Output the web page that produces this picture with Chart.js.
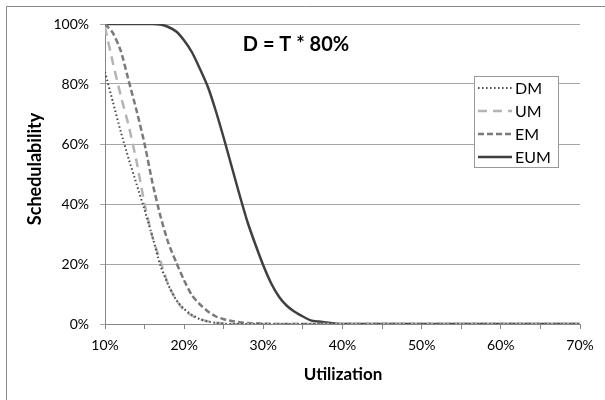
<!DOCTYPE html>
<html>
<head>
<meta charset="utf-8">
<script src="https://cdn.jsdelivr.net/npm/chart.js@4.4.0/dist/chart.umd.min.js"></script>
<style>
  html, body { margin: 0; padding: 0; background: #fff; }
  canvas { display: block; }
</style>
</head>
<body>
<canvas id="chart" width="605" height="400"></canvas>
<script>
// utilization in %, schedulability in %
const utilization = [10, 11, 12, 13, 14, 15, 16, 17, 18, 19, 20, 21, 22, 23, 24, 25, 26, 27, 28, 29, 30,
  31, 32, 33, 34, 35, 36, 37, 38, 39, 40, 41, 42, 43, 44, 45, 46, 47, 48, 49, 50,
  51, 52, 53, 54, 55, 56, 57, 58, 59, 60, 61, 62, 63, 64, 65, 66, 67, 68, 69, 70];

const dmValues = [84, 74, 64, 55, 46.5, 38, 29, 19.5, 13, 8, 5, 3, 1.6, 0.8, 0.4, 0.1, 0, 0, 0, 0, 0,
  0, 0, 0, 0, 0, 0, 0, 0, 0, 0, 0, 0, 0, 0, 0, 0, 0, 0, 0, 0,
  0, 0, 0, 0, 0, 0, 0, 0, 0, 0, 0, 0, 0, 0, 0, 0, 0, 0, 0, 0];

const umValues = [99, 87, 76, 66, 54, 40, 29, 21, 13, 8, 4.5, 2.8, 1.6, 0.9, 0.4, 0.15, 0, 0, 0, 0, 0,
  0, 0, 0, 0, 0, 0, 0, 0, 0, 0, 0, 0, 0, 0, 0, 0, 0, 0, 0, 0,
  0, 0, 0, 0, 0, 0, 0, 0, 0, 0, 0, 0, 0, 0, 0, 0, 0, 0, 0, 0];

const emValues = [100, 97, 91, 81, 71, 60, 47, 36, 27, 20.5, 14.5, 9.5, 6.5, 4.2, 2.5, 1.6, 1.0, 0.6, 0.3, 0.2, 0.1,
  0, 0, 0, 0, 0, 0, 0, 0, 0, 0, 0, 0, 0, 0, 0, 0, 0, 0, 0, 0,
  0, 0, 0, 0, 0, 0, 0, 0, 0, 0, 0, 0, 0, 0, 0, 0, 0, 0, 0, 0];

const eumValues = [100, 100, 100, 100, 100, 100, 100, 99.8, 99, 97.5, 94.5, 90.5, 85, 79, 71, 62, 52.5, 43, 34, 26.5, 19.5,
  13.5, 9, 6, 4, 2.5, 1.2, 0.8, 0.5, 0.2, 0, 0, 0, 0, 0, 0, 0, 0, 0, 0, 0,
  0, 0, 0, 0, 0, 0, 0, 0, 0, 0, 0, 0, 0, 0, 0, 0, 0, 0, 0, 0];

const seriesNames = ['DM', 'UM', 'EM', 'EUM'];
const chartTitle = 'D = T * 80%';
const xTitle = 'Utilization';
const yTitle = 'Schedulability';

const FONT = 'Lato, "Open Sans", sans-serif';

function points(values) {
  return utilization.map((u, i) => ({ x: u, y: values[i] }));
}

// frame, title, axis titles and the boxed legend
const decorations = {
  id: 'decorations',
  beforeDraw(chart) {
    const ctx = chart.ctx;
    ctx.save();
    ctx.fillStyle = '#fff';
    ctx.fillRect(0, 0, chart.width, chart.height);
    ctx.strokeStyle = '#888';
    ctx.lineWidth = 1;
    ctx.beginPath();
    ctx.moveTo(6.5, chart.height);
    ctx.lineTo(6.5, 6.5);
    ctx.lineTo(chart.width, 6.5);
    ctx.stroke();
    ctx.restore();
  },
  afterDraw(chart) {
    const ctx = chart.ctx;
    const area = chart.chartArea;
    ctx.save();
    ctx.fillStyle = '#000';
    ctx.textBaseline = 'middle';

    ctx.font = 'bold 20px ' + FONT;
    ctx.textAlign = 'center';
    ctx.fillText(chartTitle, 296, 45);

    ctx.font = 'bold 17px ' + FONT;
    ctx.fillText(xTitle, 343, 375);

    ctx.save();
    ctx.font = 'bold 18px ' + FONT;
    ctx.translate(35, 169);
    ctx.rotate(-Math.PI / 2);
    ctx.fillText(yTitle, 0, 0);
    ctx.restore();

    // legend
    const lx = 474, ly = 76, lw = 84, lh = 91;
    ctx.fillStyle = '#fff';
    ctx.fillRect(lx, ly, lw, lh);
    ctx.strokeStyle = '#999';
    ctx.lineWidth = 1;
    ctx.strokeRect(lx + 0.5, ly + 0.5, lw, lh);

    ctx.font = '16px ' + FONT;
    ctx.textAlign = 'left';
    chart.data.datasets.forEach((ds, i) => {
      const y = 88 + i * 23;
      ctx.save();
      ctx.strokeStyle = ds.borderColor;
      ctx.lineWidth = ds.borderWidth;
      ctx.setLineDash(ds.borderDash || []);
      ctx.beginPath();
      ctx.moveTo(478, y);
      ctx.lineTo(512, y);
      ctx.stroke();
      ctx.restore();
      ctx.fillStyle = '#000';
      ctx.fillText(ds.label, 515, y + 1);
    });
    ctx.restore();
  }
};

new Chart(document.getElementById('chart'), {
  type: 'line',
  data: {
    datasets: [
      { label: seriesNames[0], data: points(dmValues), borderColor: '#4a4a4a', borderWidth: 2, borderDash: [1.5, 2.5] },
      { label: seriesNames[1], data: points(umValues), borderColor: '#b4b4b4', borderWidth: 2.5, borderDash: [9, 6] },
      { label: seriesNames[2], data: points(emValues), borderColor: '#7a7a7a', borderWidth: 2.5, borderDash: [6, 3] },
      { label: seriesNames[3], data: points(eumValues), borderColor: '#404040', borderWidth: 2.5 }
    ]
  },
  options: {
    responsive: false,
    animation: false,
    layout: { padding: { top: 24, right: 25, left: 0, bottom: 0 } },
    elements: { point: { radius: 0 }, line: { tension: 0.2, fill: false } },
    plugins: { legend: { display: false }, tooltip: { enabled: false } },
    scales: {
      x: {
        type: 'linear',
        min: 10,
        max: 70,
        afterFit: (scale) => { scale.height = 76; },
        ticks: {
          stepSize: 5,
          autoSkip: false,
          maxRotation: 0,
          padding: 8,
          color: '#000',
          font: { family: FONT, size: 14 },
          callback: (v) => (v % 10 === 0 ? v + '%' : '')
        },
        grid: { drawOnChartArea: false, tickLength: 5, color: '#868686' },
        border: { color: '#868686' }
      },
      y: {
        min: 0,
        max: 100,
        afterFit: (scale) => { scale.width = 105; },
        ticks: {
          stepSize: 20,
          padding: 11,
          color: '#000',
          font: { family: FONT, size: 14 },
          callback: (v) => v + '%'
        },
        grid: { color: '#a6a6a6', tickLength: 5 },
        border: { color: '#868686' }
      }
    }
  },
  plugins: [decorations]
});
</script>
</body>
</html>
